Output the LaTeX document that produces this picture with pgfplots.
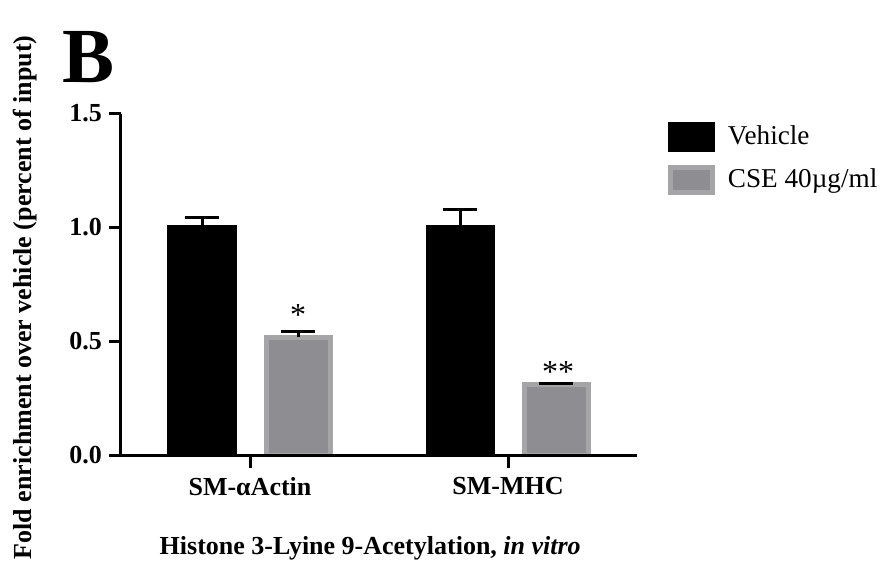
\documentclass[border=0pt]{standalone}
\usepackage{fontspec}
\setmainfont{Liberation Serif}
\usepackage{pgfplots}
\pgfplotsset{compat=1.18}
\definecolor{cseFill}{RGB}{142,141,146}
\definecolor{cseEdge}{RGB}{165,165,167}
\pgfplotsset{
  boxlegend/.style={legend image code/.code={\draw[##1, line width=2.5pt] (1.25pt,-6.25pt) rectangle (22.25pt,6.25pt);}},
}
\begin{document}
\begin{tikzpicture}
\useasboundingbox (-60.5pt,-56.25pt) rectangle (380pt,227.75pt);
\begin{axis}[
  at={(0,0)}, anchor=south west,
  scale only axis, width=258pt, height=171pt,
  xmin=-0.5, xmax=1.5, ymin=0, ymax=1.5,
  axis lines=left, axis line style={line width=1.5pt,-},
  axis on top,
  tick style={line width=1.5pt, black}, major tick length=6pt, tick align=outside,
  xtick={0,1}, xticklabels={SM-αActin,SM-MHC},
  ytick={0,0.5,1,1.5}, yticklabels={0.0,0.5,1.0,1.5},
  ticklabel style={font=\fontsize{13}{15}\selectfont\bfseries},
  xticklabel style={yshift=-1.5pt},
  ylabel={Fold enrichment over vehicle (percent of input)},
  xlabel={Histone 3-Lyine 9-Acetylation, \textit{in vitro}},
  label style={font=\fontsize{13}{15}\selectfont\bfseries},
  ylabel style={at={(axis description cs:-0.186,0.462)}, anchor=center},
  xlabel style={at={(axis description cs:0.483,-0.272)}, anchor=center},
  ybar, bar width=32pt,
  legend style={at={(rel axis cs:1.060,0.975)}, anchor=north west, draw=none, fill=none,
    inner sep=0pt, outer sep=0pt, font=\fontsize{13.6}{16}\selectfont, row sep=6.5pt,
    column sep=4.5pt, cells={anchor=west}},
]
\addplot[fill=black, draw=black, line width=2.5pt, bar shift=-24pt, boxlegend,
  error bars/.cd, y dir=plus, y explicit,
  error bar style={line width=1.5pt, black},
  error mark options={line width=1.5pt, black, mark size=8.5pt, rotate=90}]
  coordinates {(0,1.0) +- (0,0.042) (1,1.0) +- (0,0.081)};
\addlegendentry{Vehicle}
\addplot[fill=cseFill, draw=cseEdge, line width=2.5pt, bar shift=24pt, boxlegend,
  error bars/.cd, y dir=plus, y explicit,
  error bar style={line width=1.5pt, black},
  error mark options={line width=1.5pt, black, mark size=8.5pt, rotate=90}]
  coordinates {(0,0.518) +- (0,0.024) (1,0.311) +- (0,0.007)};
\addlegendentry{CSE 40µg/ml}
\node[font=\fontsize{16}{16}\selectfont, inner sep=0pt, anchor=base] at (axis cs:0,0.572) [xshift=24pt] {*};
\node[font=\fontsize{16}{16}\selectfont, inner sep=0pt, anchor=base] at (axis cs:1,0.322) [xshift=25pt] {**};
\end{axis}
\node[anchor=base west, inner sep=0pt, font=\fontsize{39}{39}\selectfont\bfseries] at (-29.5pt,186.25pt) {B};
\end{tikzpicture}
\end{document}
